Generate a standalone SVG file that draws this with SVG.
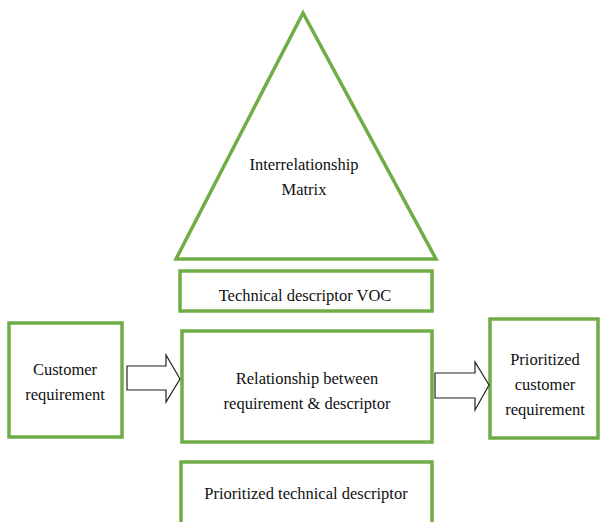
<svg xmlns="http://www.w3.org/2000/svg" width="600" height="522" viewBox="0 0 600 522">
<style>
.box{fill:#fff;stroke:#70AD47;stroke-width:3.5}
.arr{fill:#fff;stroke:#222;stroke-width:1.2}
text{font-family:"Liberation Serif","Times New Roman",serif;font-size:16.5px;fill:#111;text-anchor:middle}
</style>
<rect width="600" height="522" fill="#fff"/>
<g id="matrix">
<polygon class="box" points="303,13 176,259 436,259"/>
<text x="304" y="170">Interrelationship</text>
<text x="304" y="195">Matrix</text>
</g>
<g id="voc">
<rect class="box" x="180" y="271" width="252" height="40"/>
<text x="305" y="301">Technical descriptor VOC</text>
</g>
<g id="customer">
<rect class="box" x="9" y="323" width="113" height="114"/>
<text x="65" y="375">Customer</text>
<text x="65" y="400">requirement</text>
</g>
<g id="relationship">
<rect class="box" x="182" y="331" width="250" height="111"/>
<text x="307" y="384">Relationship between</text>
<text x="307" y="409">requirement &amp; descriptor</text>
</g>
<g id="prioritized-customer">
<rect class="box" x="490" y="319" width="108" height="119"/>
<text x="545" y="365">Prioritized</text>
<text x="545" y="390">customer</text>
<text x="545" y="415">requirement</text>
</g>
<g id="prioritized-technical">
<rect class="box" x="181" y="462" width="251" height="64"/>
<text x="306" y="499">Prioritized technical descriptor</text>
</g>
<g id="connectors">
<polygon class="arr" points="127,366 166,366 166,355 180,379 166,402 166,390 127,390"/>
<polygon class="arr" points="435,373 475,373 475,362 489,385 475,410 475,398 435,398"/>
</g>
</svg>
